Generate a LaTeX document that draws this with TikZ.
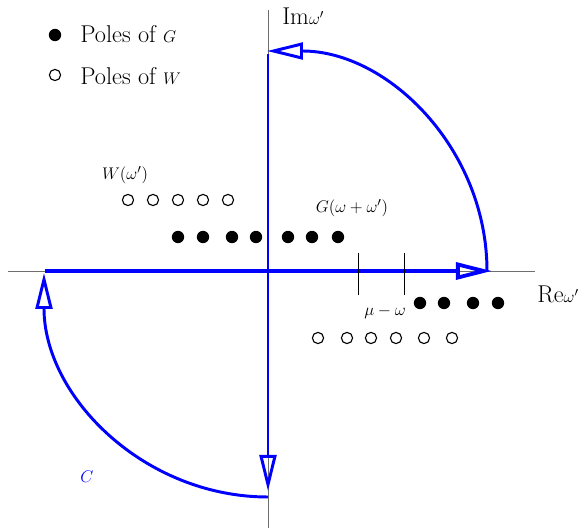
\documentclass[tikz,border=0pt]{standalone}
\usepackage{amsmath}
\usetikzlibrary{arrows.meta}
\definecolor{kontur}{RGB}{0,0,255}
\definecolor{achse}{HTML}{6E6E6E}
\tikzset{
  ax/.style={achse,line width=0.7pt},
  weg/.style={kontur,line width=2.1pt,-{Triangle[open,length=9mm,width=4.2mm]}},
  polg/.style={circle,fill=black,inner sep=0pt,minimum size=3.1mm},
  polw/.style={circle,draw=black,line width=0.8pt,inner sep=0pt,minimum size=2.8mm},
  strich/.style={black,line width=0.7pt},
  leg/.style={anchor=base west,inner sep=0pt,font=\fontsize{17.28}{20}\selectfont},
}
\newcommand{\klein}[1]{{\fontsize{13}{15}\selectfont$#1$}}

\begin{document}
\begin{tikzpicture}
  \useasboundingbox (-6.7,-6.475) rectangle (7.925,6.775);
  \draw[ax] (-6.5,0) -- (6.675,0);
  \draw[ax] (0,-6.425) -- (0,6.525);
  \coordinate (li) at (-5.575,0);
  \coordinate (re) at (5.6,0);
  \coordinate (bo) at (5.475,0);
  \coordinate (ob) at (0,5.5);
  \coordinate (ob2) at (0,5.42);
  \coordinate (un) at (0,-5.5);
  \coordinate (un2) at (0,-5.65);
  \draw[weg,line width=2.7pt] (li) -- (re);
  \draw[weg] (bo) arc (0:90:5.5);
  \draw[weg] (ob2) -- (un);
  \draw[weg] (un2) arc (270:180:5.6);
  \draw[strich] (2.25,0.45) -- (2.25,-0.6);
  \draw[strich] (3.4,0.45) -- (3.4,-0.6);
  \foreach \x [count=\i] in {-2.25,-1.625,-0.9,-0.3,0.5,1.1,1.75}
    \node[polg] (g\i) at (\x,0.85) {};
  \foreach \x [count=\i] in {3.8,4.4,5.125,5.75}
    \node[polg] (h\i) at (\x,-0.8) {};
  \foreach \x [count=\i] in {-3.5,-2.875,-2.25,-1.625,-1.0}
    \node[polw] (w\i) at (\x,1.775) {};
  \foreach \x [count=\i] in {1.25,1.975,2.575,3.2,3.9,4.6}
    \node[polw] (v\i) at (\x,-1.675) {};
  \node (lw) at (-3.575,2.4) {\klein{W(\omega')}};
  \node (lg) at (2.1,1.575) {\klein{G(\omega+\omega')}};
  \node (lmu) at (2.925,-1.025) {\klein{\mu-\omega}};
  \node[text=kontur] (lc) at (-4.525,-5.15) {\klein{C}};
  \node[leg] (im) at (0.35,6.15) {Im\klein{\omega'}};
  \node[leg] (rew) at (6.725,-0.8) {Re\klein{\omega'}};
  \node[polg] (lp1) at (-5.325,5.9) {};
  \node[leg] (lt1) at (-4.7,5.7) {Poles of \klein{G}};
  \node[polw] (lp2) at (-5.325,4.9) {};
  \node[leg] (lt2) at (-4.7,4.65) {Poles of \klein{W}};
\end{tikzpicture}
\end{document}
